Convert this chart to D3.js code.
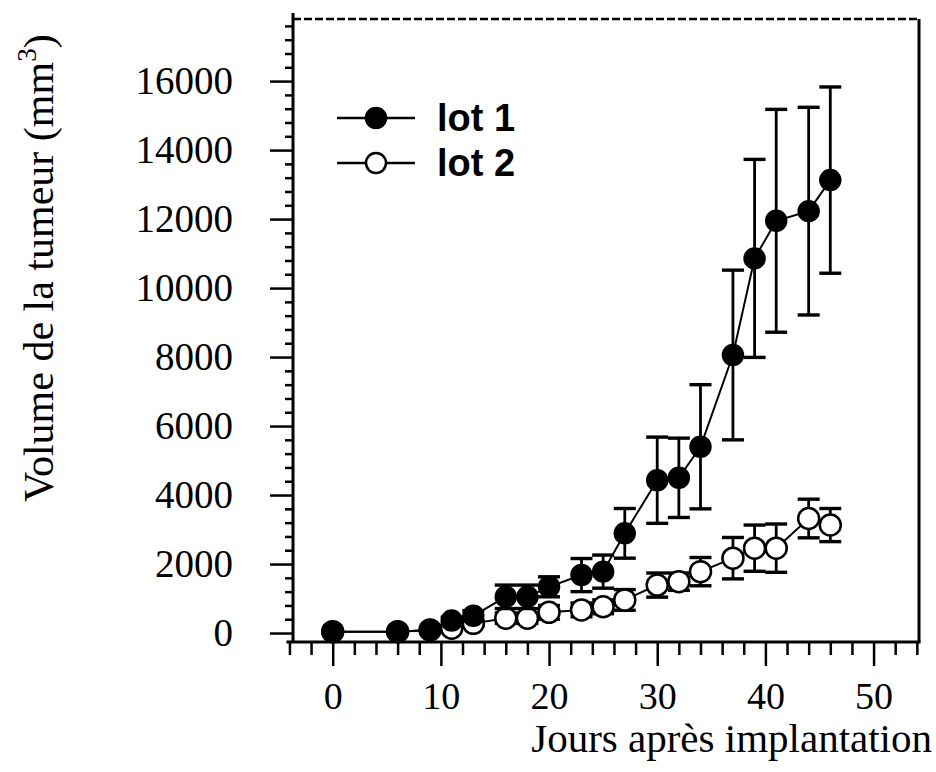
<!DOCTYPE html>
<html>
<head>
<meta charset="utf-8">
<script src="https://cdn.jsdelivr.net/npm/d3@7"></script>
<style>
  html, body { margin: 0; padding: 0; background: #fff; }
  svg { display: block; }
</style>
</head>
<body>
<svg id="chart" width="936" height="772"></svg>
<script>
// ---- data ----
const days = [0, 6, 9, 11, 13, 16, 18, 20, 23, 25, 27, 30, 32, 34, 37, 39, 41, 44, 46];
const lot1 = [40, 40, 90, 360, 500, 1050, 1050, 1340, 1680, 1780, 2890, 4430, 4500, 5400, 8060, 10860, 11950, 12230, 13130];
const lot1Err = [0, 0, 0, 100, 150, 340, 340, 290, 480, 480, 720, 1250, 1150, 1800, 2460, 2870, 3230, 3010, 2700];
const lot2 = [40, 40, 90, 140, 280, 430, 430, 600, 670, 760, 960, 1390, 1490, 1780, 2170, 2460, 2460, 3320, 3130];
const lot2Err = [0, 0, 0, 50, 80, 150, 150, 200, 200, 200, 300, 350, 250, 410, 600, 670, 700, 560, 480];
const seriesNames = ["lot 1", "lot 2"];
const xMajorTicks = [0, 10, 20, 30, 40, 50];
const yMajorTicks = [0, 2000, 4000, 6000, 8000, 10000, 12000, 14000, 16000];
const xTitle = "Jours après implantation";
const yTitle = "Volume de la tumeur (mm";

// ---- layout ----
const svg = d3.select("#chart");
const X0 = 293, X1 = 919, Y0 = 642, Y1 = 19;
const x = d3.scaleLinear().domain([-3.67, 54.2]).range([X0, X1]);
const y = d3.scaleLinear().domain([-260, 17800]).range([Y0, Y1]);
const serif = "'Liberation Serif', 'Times New Roman', serif";
const sans = "'Liberation Sans', Arial, sans-serif";

const xMinor = d3.range(-4, 55, 2).filter(d => d % 10 !== 0);
const yMinor = d3.range(0, 17801, 400).filter(d => d % 2000 !== 0);

// frame: top dashed, right solid
svg.append("line").attr("x1", X0).attr("x2", X1).attr("y1", Y1).attr("y2", Y1)
  .attr("stroke", "#000").attr("stroke-width", 2.5).attr("stroke-dasharray", "8,3");
svg.append("line").attr("x1", X1).attr("x2", X1).attr("y1", Y1).attr("y2", Y0)
  .attr("stroke", "#000").attr("stroke-width", 3);

// y axis
const yAxisG = svg.append("g").attr("transform", `translate(${X0},0)`);
yAxisG.call(d3.axisLeft(y).tickValues(yMinor).tickSize(8).tickFormat(""));
const yMaj = svg.append("g").attr("transform", `translate(${X0},0)`)
  .call(d3.axisLeft(y).tickValues(yMajorTicks).tickSize(23).tickPadding(37).tickFormat(d3.format("d")));
[yAxisG, yMaj].forEach(g => {
  g.select(".domain").remove();
  g.selectAll(".tick line").attr("stroke", "#000").attr("stroke-width", 2.5);
});
yMaj.selectAll(".tick text").attr("font-family", serif).attr("font-size", 39).attr("fill", "#000");
svg.append("line").attr("x1", X0).attr("x2", X0).attr("y1", 13).attr("y2", Y0)
  .attr("stroke", "#000").attr("stroke-width", 3);

// x axis
const xAxisG = svg.append("g").attr("transform", `translate(0,${Y0})`)
  .call(d3.axisBottom(x).tickValues(xMinor).tickSize(13).tickFormat(""));
const xMaj = svg.append("g").attr("transform", `translate(0,${Y0})`)
  .call(d3.axisBottom(x).tickValues(xMajorTicks).tickSize(24).tickPadding(16).tickFormat(d3.format("d")));
[xAxisG, xMaj].forEach(g => {
  g.select(".domain").remove();
  g.selectAll(".tick line").attr("stroke", "#000").attr("stroke-width", 2.5);
});
xMaj.selectAll(".tick text").attr("font-family", serif).attr("font-size", 38).attr("fill", "#000");
svg.append("line").attr("x1", x(-4) - 3).attr("x2", X1 + 1.5).attr("y1", Y0).attr("y2", Y0)
  .attr("stroke", "#000").attr("stroke-width", 3);

// titles
svg.append("text").attr("x", 932).attr("y", 752).attr("text-anchor", "end")
  .attr("font-family", serif).attr("font-size", 41).attr("fill", "#000").text(xTitle);
const yt = svg.append("text").attr("transform", "translate(53,502) rotate(-90)")
  .attr("text-anchor", "start").attr("font-family", serif).attr("font-size", 42).attr("fill", "#000");
yt.append("tspan").text(yTitle);
yt.append("tspan").attr("font-size", 27).attr("dy", -17).text("3");
yt.append("tspan").attr("dy", 17).text(")");

// data
const data1 = days.map((d, i) => ({ d, v: lot1[i], e: lot1Err[i] }));
const data2 = days.map((d, i) => ({ d, v: lot2[i], e: lot2Err[i] }));
const line = d3.line().x(p => x(p.d)).y(p => y(p.v));
const R = 10.5, CAP = 11;

function errorBars(data) {
  const g = svg.append("g").attr("stroke", "#000").attr("stroke-width", 2.8);
  data.filter(p => p.e > 0).forEach(p => {
    const cx = x(p.d);
    g.append("line").attr("x1", cx).attr("x2", cx).attr("y1", y(p.v + p.e)).attr("y2", y(p.v - p.e));
    [p.v + p.e, p.v - p.e].forEach(v => {
      g.append("line").attr("x1", cx - CAP).attr("x2", cx + CAP).attr("y1", y(v)).attr("y2", y(v))
        .attr("stroke-width", 3.4);
    });
  });
}

errorBars(data2);
svg.append("path").datum(data2).attr("d", line).attr("fill", "none").attr("stroke", "#000").attr("stroke-width", 2);
svg.append("g").selectAll("circle").data(data2).join("circle")
  .attr("cx", p => x(p.d)).attr("cy", p => y(p.v)).attr("r", R)
  .attr("fill", "#fff").attr("stroke", "#000").attr("stroke-width", 2.5);

errorBars(data1);
svg.append("path").datum(data1).attr("d", line).attr("fill", "none").attr("stroke", "#000").attr("stroke-width", 2);
svg.append("g").selectAll("circle").data(data1).join("circle")
  .attr("cx", p => x(p.d)).attr("cy", p => y(p.v)).attr("r", R)
  .attr("fill", "#000").attr("stroke", "#000").attr("stroke-width", 1.5);

// legend
const legend = svg.append("g");
seriesNames.forEach((name, i) => {
  const ly = 118 + i * 45;
  legend.append("line").attr("x1", 337).attr("x2", 415).attr("y1", ly).attr("y2", ly)
    .attr("stroke", "#000").attr("stroke-width", 2.5);
  legend.append("circle").attr("cx", 376).attr("cy", ly).attr("r", 10)
    .attr("fill", i === 0 ? "#000" : "#fff").attr("stroke", "#000").attr("stroke-width", 2.5);
  legend.append("text").attr("x", 437).attr("y", ly + 13)
    .attr("font-family", sans).attr("font-weight", "bold").attr("font-size", 38).attr("fill", "#000")
    .text(name);
});
</script>
</body>
</html>
